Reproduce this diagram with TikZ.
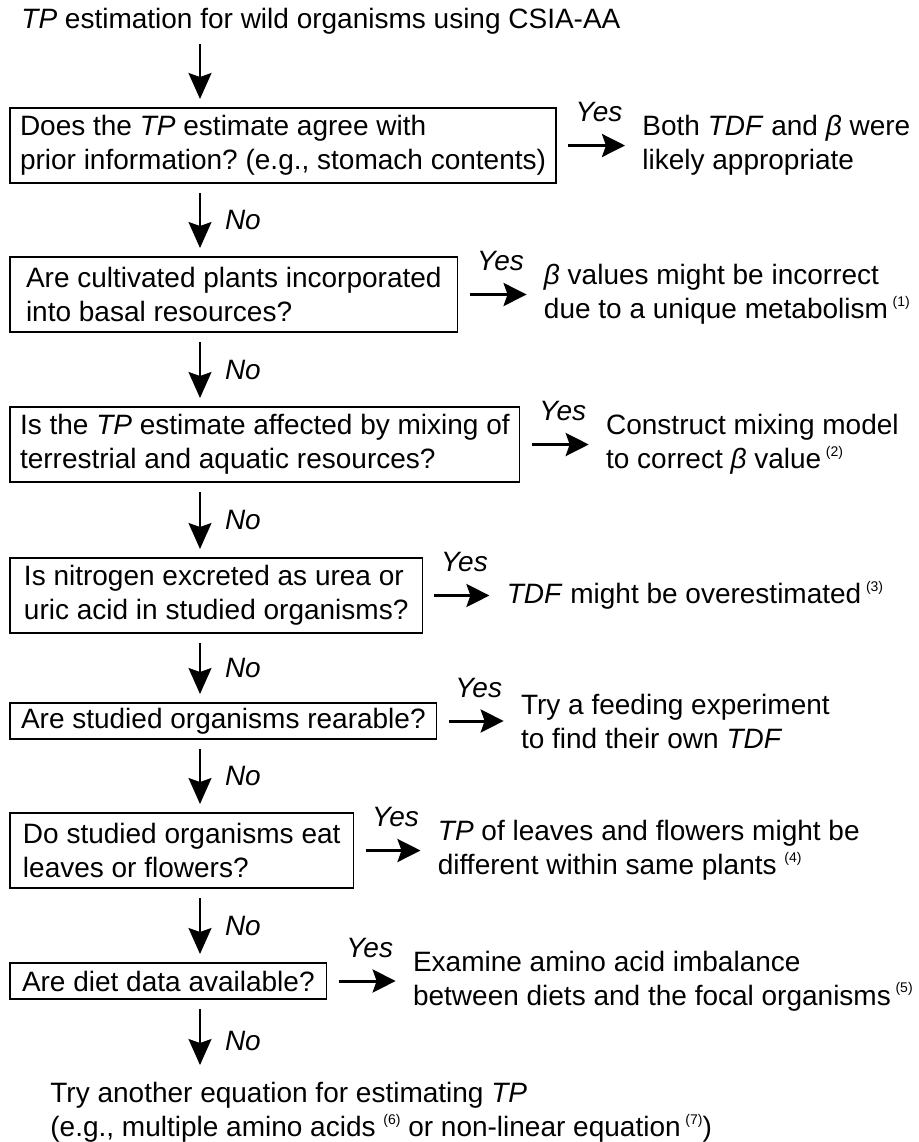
\documentclass[tikz,border=0pt]{standalone}
\usepackage{fontspec}
\setmainfont{Liberation Sans}
\usetikzlibrary{positioning, arrows.meta}

\newcommand\mainsize{\fontsize{14}{17}\selectfont\frenchspacing}
\newcommand\refmark[1]{\raisebox{6.3pt}{\fontsize{7}{7}\selectfont(#1)}}

\begin{document}
\begin{tikzpicture}[x=0.5pt, y=-0.5pt, node distance=37.5pt, font=\mainsize,
  qbox/.style={draw, rectangle, line width=0.7pt, align=left, inner xsep=5pt, inner ysep=1pt, outer sep=0pt, minimum height=37.5pt},
  ans/.style={inner sep=0pt, align=left},
  down/.style={line width=1pt, arrows={-Stealth[length=13pt, width=11.5pt, inset=2pt]}, shorten <=5pt, shorten >=4.5pt},
  yesarrow/.style={line width=1.5pt, arrows={-Stealth[length=11.5pt, width=11.5pt, inset=2pt]}, shorten <=6pt, shorten >=8.5pt},
  yeslabel/.style={above=11pt, inner sep=0pt, font=\mainsize\itshape},
  nolabel/.style={right=12pt, inner sep=0pt, font=\mainsize\itshape}]
\useasboundingbox (0,0) rectangle (919,1142);
\coordinate (col) at (200,0);
% questions
\node  (title)[anchor=base west, inner sep=0pt] at (21,28) {\textit{TP} estimation for wild organisms using CSIA-AA};
\node  (q1)[qbox, anchor=north west] at (10,108) {Does the \textit{TP} estimate agree with\\prior information? (e.g., stomach contents)};
\node  (q2)[qbox, inner xsep=8pt, below right=37pt and 0pt of q1.south west] {Are cultivated plants incorporated\\into basal resources?};
\node  (q3)[qbox, below right=37.5pt and 0pt of q2.south west] {Is the \textit{TP} estimate affected by mixing of\\terrestrial and aquatic resources?};
\node  (q4)[qbox, inner xsep=7pt, below right=38pt and 0pt of q3.south west] {Is nitrogen excreted as urea or\\uric acid in studied organisms?};
\node  (q5)[qbox, inner xsep=5.5pt, minimum height=18pt, below right=35pt and 0pt of q4.south west] {Are studied organisms rearable?};
\node  (q6)[qbox, inner xsep=6.5pt, below right=37pt and 0pt of q5.south west] {Do studied organisms eat\\leaves or flowers?};
\node  (q7)[qbox, inner xsep=6pt, minimum height=18pt, below right=37.5pt and 0pt of q6.south west] {Are diet data available?};
\node  (fin)[ans, anchor=north west] at (50,1082) {Try another equation for estimating \textit{TP}\\(e.g., multiple amino acids \refmark{6} or non-linear equation\,\refmark{7})};
% answers
\node  (a1)[ans, right=43pt of q1] {Both \textit{TDF} and \textit{β} were\\likely appropriate};
\node  (a2)[ans, right=43pt of q2] {\textit{β} values might be incorrect\\due to a unique metabolism\,\refmark{1}};
\node  (a3)[ans, right=43pt of q3] {Construct mixing model\\to correct \textit{β} value\,\refmark{2}};
\node  (a4)[ans, right=42pt of q4] {\textit{TDF} might be overestimated\,\refmark{3}};
\node  (a5)[ans, right=42pt of q5] {Try a feeding experiment\\to find their own \textit{TDF}};
\node  (a6)[ans, right=42pt of q6] {\textit{TP} of leaves and flowers might be\\different within same plants \refmark{4}};
\node  (a7)[ans, right=43pt of q7] {Examine amino acid imbalance\\between diets and the focal organisms\,\refmark{5}};
% No arrows
\draw[down] (col |- title.south) -- (col |- q1.north);
\draw[down] (col |- q1.south) -- node[nolabel] {No} (col |- q2.north);
\draw[down] (col |- q2.south) -- node[nolabel] {No} (col |- q3.north);
\draw[down] (col |- q3.south) -- node[nolabel] {No} (col |- q4.north);
\draw[down] (col |- q4.south) -- node[nolabel] {No} (col |- q5.north);
\draw[down] (col |- q5.south) -- node[nolabel] {No} (col |- q6.north);
\draw[down] (col |- q6.south) -- node[nolabel] {No} (col |- q7.north);
\draw[down, shorten >=8.5pt] (col |- q7.south) -- node[nolabel] {No} (col |- fin.north);
% Yes arrows
\draw[yesarrow] (q1) -- node[yeslabel] {Yes} (a1);
\draw[yesarrow] (q2) -- node[yeslabel] {Yes} (a2);
\draw[yesarrow] (q3) -- node[yeslabel] {Yes} (a3);
\draw[yesarrow] (q4) -- node[yeslabel] {Yes} (a4);
\draw[yesarrow] (q5) -- node[yeslabel] {Yes} (a5);
\draw[yesarrow] (q6) -- node[yeslabel] {Yes} (a6);
\draw[yesarrow] (q7) -- node[yeslabel] {Yes} (a7);
\end{tikzpicture}
\end{document}
